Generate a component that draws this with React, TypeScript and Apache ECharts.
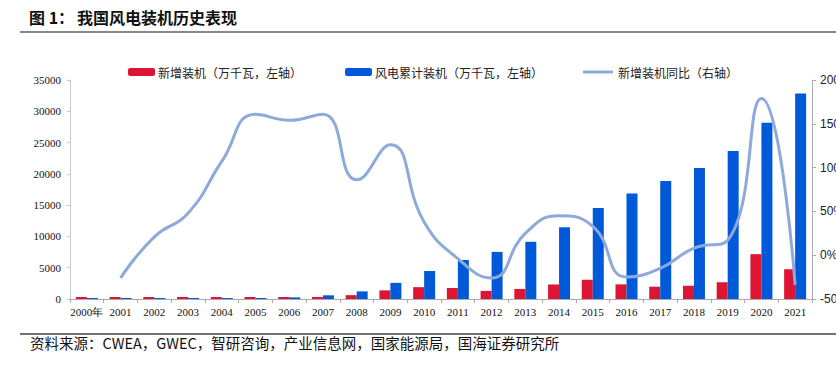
import React, { useEffect, useRef } from "react";
import * as echarts from "echarts";

const categories = ["2000年", "2001", "2002", "2003", "2004", "2005", "2006", "2007", "2008", "2009", "2010", "2011", "2012", "2013", "2014", "2015", "2016", "2017", "2018", "2019", "2020", "2021"];
const newInstalled = [8, 4, 7, 10, 20, 50, 130, 330, 615, 1380, 1893, 1763, 1296, 1609, 2320, 3075, 2337, 1966, 2114, 2679, 7167, 4757];
const cumulative = [34, 38, 45, 57, 76, 126, 260, 590, 1215, 2580, 4473, 6236, 7532, 9141, 11460, 14536, 16873, 18839, 20953, 23633, 28153, 32848];
const yoyGrowth: (number | string)[] = ["-", -26, 21, 48, 107, 161, 154, 161, 86, 126, 38, -4, -26, 25, 45, 33, -25, -15, 8, 17, 179, -34];
const leftTicks = { min: 0, max: 35000, interval: 5000 };
const rightTicks = { min: -50, max: 200, interval: 50 };

const RED = "#DD1535";
const BLUE = "#0059D9";
const LINE = "#8EA9DB";

export default function App() {
  const ref = useRef<HTMLDivElement>(null);
  useEffect(() => {
    document.body.style.margin = "0";
    const chart = echarts.init(ref.current!, null, { renderer: "svg" });
    const serif = "'Liberation Serif', 'Times New Roman', serif";
    const cjk = "'Noto Sans CJK SC', sans-serif";
    chart.setOption({
      animation: false,
      backgroundColor: "#fff",
      grid: { left: 70, right: 24, top: 80, bottom: 71, containLabel: false, outerBoundsMode: "none" },
      legend: [
        {
          data: ["新增装机（万千瓦，左轴）"],
          left: 123, top: 61, itemWidth: 27, itemHeight: 8, itemGap: 3,
          textStyle: { fontFamily: cjk, fontSize: 12, color: "#222", padding: [0, 0, 0, -2] },
        },
        {
          data: ["风电累计装机（万千瓦，左轴）"],
          left: 340, top: 61, itemWidth: 27, itemHeight: 8,
          textStyle: { fontFamily: cjk, fontSize: 12, color: "#222", padding: [0, 0, 0, -2] },
        },
        {
          data: [{ name: "新增装机同比（右轴）", icon: "roundRect" }],
          left: 578, top: 61, itemWidth: 30, itemHeight: 3,
          textStyle: { fontFamily: cjk, fontSize: 12, color: "#222" },
        },
      ],
      xAxis: {
        type: "category",
        data: categories,
        axisLine: { lineStyle: { color: "#AAAAAA", width: 1 } },
        axisTick: { show: true, length: 4, lineStyle: { color: "#AAAAAA" } },
        axisLabel: { fontFamily: serif, fontSize: 11, color: "#111", margin: 7, interval: 0 },
      },
      yAxis: [
        {
          type: "value",
          ...leftTicks,
          axisLine: { show: true, lineStyle: { color: "#C8C8C8" } },
          axisTick: { show: true, length: 3, lineStyle: { color: "#C8C8C8" } },
          splitLine: { show: false },
          axisLabel: { fontFamily: serif, fontSize: 11, color: "#111", margin: 9, formatter: (v: number) => String(v) },
        },
        {
          type: "value",
          ...rightTicks,
          position: "right",
          axisLine: { show: true, lineStyle: { color: "#AAAAAA" } },
          axisTick: { show: true, length: 4, lineStyle: { color: "#AAAAAA" } },
          splitLine: { show: false },
          axisLabel: { fontFamily: "'Liberation Sans', Arial, sans-serif", fontSize: 12, color: "#222", margin: 8, formatter: (v: number) => v + "%" },
        },
      ],
      series: [
        {
          name: "新增装机（万千瓦，左轴）",
          type: "bar",
          data: newInstalled,
          barWidth: 11,
          barGap: "0%",
          barMinHeight: 2,
          itemStyle: { color: RED },
        },
        {
          name: "风电累计装机（万千瓦，左轴）",
          type: "bar",
          data: cumulative,
          barWidth: 11,
          barGap: "0%",
          barMinHeight: 1,
          itemStyle: { color: BLUE },
        },
        {
          name: "新增装机同比（右轴）",
          type: "line",
          yAxisIndex: 1,
          data: yoyGrowth,
          smooth: 0.5,
          symbol: "none",
          showSymbol: false,
          lineStyle: { color: LINE, width: 3 },
          itemStyle: { color: LINE },
        },
      ],
      graphic: [
        { type: "text", left: 29, top: 9, style: { text: "图 1：", fontFamily: cjk, fontSize: 16, fontWeight: "bold", fill: "#111" } },
        { type: "text", left: 77, top: 9, style: { text: "我国风电装机历史表现", fontFamily: cjk, fontSize: 16, fontWeight: "bold", fill: "#111" } },
        { type: "line", shape: { x1: 20, y1: 32, x2: 836, y2: 32 }, style: { stroke: "#888", lineWidth: 2 } },
        { type: "line", shape: { x1: 20, y1: 334, x2: 836, y2: 334 }, style: { stroke: "#444", lineWidth: 1.5 } },
        { type: "text", left: 30, top: 335, style: { text: "资料来源：CWEA，GWEC，智研咨询，产业信息网，国家能源局，国海证券研究所", fontFamily: cjk, fontSize: 14.5, fill: "#111" } },
      ],
    });
    return () => chart.dispose();
  }, []);
  return <div ref={ref} style={{ width: 836, height: 370 }} />;
}
